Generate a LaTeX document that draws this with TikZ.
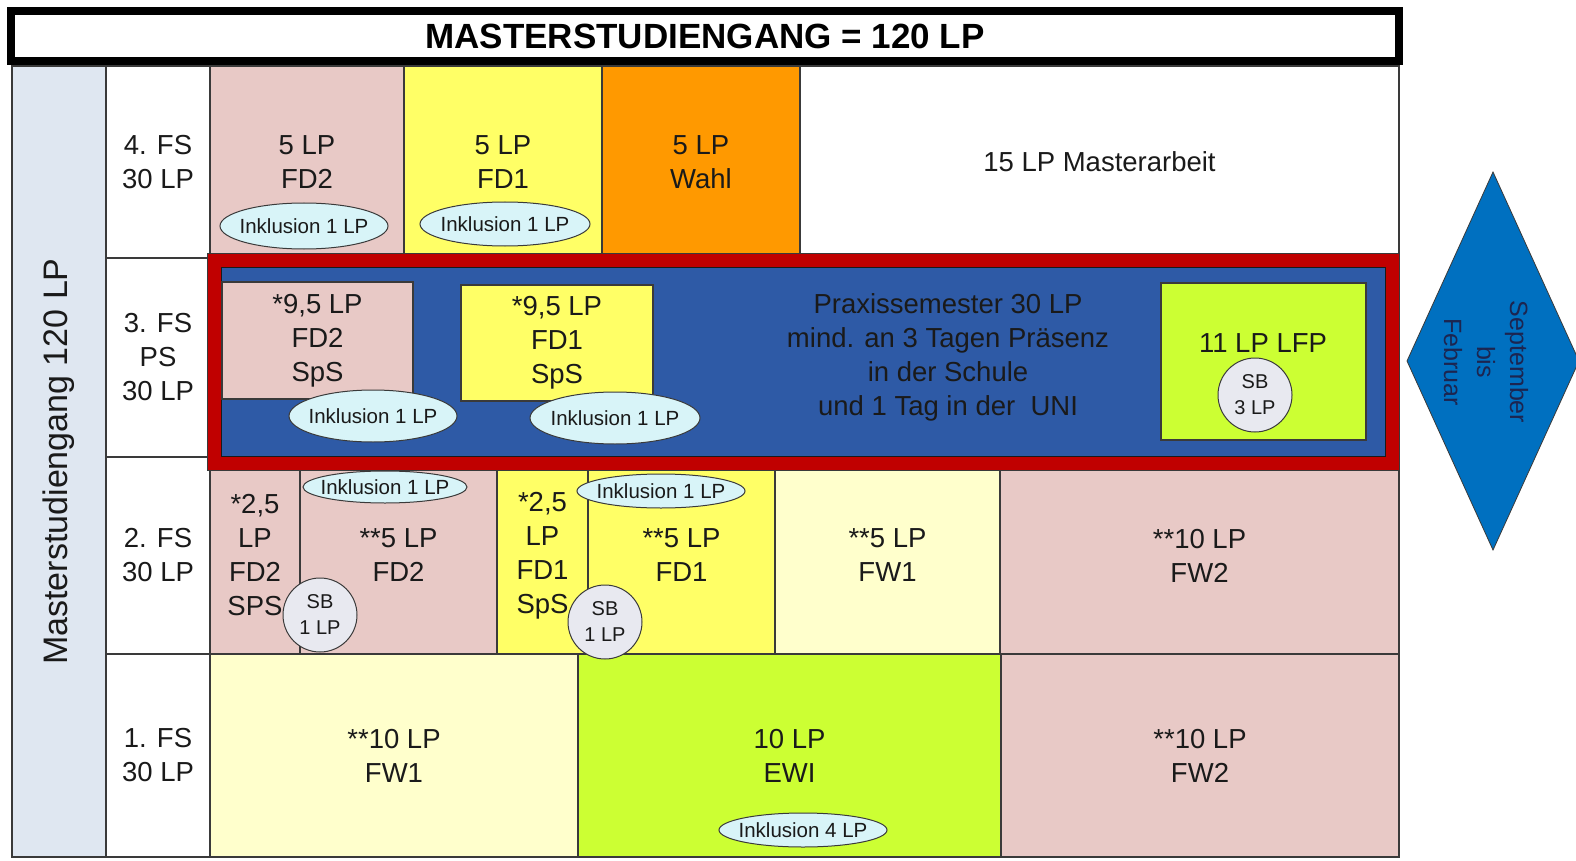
\documentclass[tikz,border=0pt]{standalone}
\usepackage{fontspec}
\setmainfont{Liberation Sans}
\usetikzlibrary{shapes.geometric}
\definecolor{pinkc}{HTML}{E8C9C6}
\definecolor{yellowc}{HTML}{FFFF66}
\definecolor{orangec}{HTML}{FF9900}
\definecolor{lyellow}{HTML}{FFFFCC}
\definecolor{greenc}{HTML}{CCFF33}
\definecolor{bluec}{HTML}{2E5AA6}
\definecolor{redc}{HTML}{C00000}
\definecolor{ellc}{HTML}{D8F4F8}
\definecolor{sbfill}{HTML}{E8E9F0}
\definecolor{labelc}{HTML}{DFE7F1}
\definecolor{diamc}{HTML}{0070C0}
\definecolor{gridc}{HTML}{3A3A3A}
\definecolor{txtc}{HTML}{1A1A1A}
\definecolor{diatext}{HTML}{1C2550}
\begin{document}
\begin{tikzpicture}[x=1pt,y=-1pt,
  every node/.style={text=txtc, align=center, inner sep=0pt, outer sep=0pt},
  cellbox/.style={draw=gridc, line width=1.2pt, anchor=north west, font=\fontsize{27.5}{34}\selectfont},
  inkl/.style={ellipse, draw=gridc, line width=1pt, fill=ellc, font=\fontsize{20.5}{24}\selectfont},
  sbc/.style={circle, draw=gridc, line width=1pt, fill=sbfill, minimum size=74, font=\fontsize{20}{26}\selectfont},
  big/.style={font=\fontsize{27.5}{34}\selectfont}]
\useasboundingbox (0,0) rectangle (1576,861);
\fill[white] (0,0) rectangle (1576,861);
% title
\node[draw=black, line width=8pt, minimum width=1388, minimum height=50, anchor=north west,
  font=\bfseries\fontsize{35}{40}\selectfont, text=black] (title) at (11,11) {MASTERSTUDIENGANG = 120 LP};
% left label
\node[rotate=90, fill=labelc, draw=gridc, line width=1.2pt, minimum width=791, minimum height=94,
  font=\fontsize{34}{40}\selectfont] (lbl) at (59,461.5) {Masterstudiengang 120 LP};
% semester labels
\node[cellbox, fill=white, minimum width=104, minimum height=192] (s4) at (106,66) {4. FS\\30 LP};
\node[cellbox, fill=white, minimum width=104, minimum height=199] (s3) at (106,258) {3. FS\\PS\\30 LP};
\node[cellbox, fill=white, minimum width=104, minimum height=197] (s2) at (106,457) {2. FS\\30 LP};
\node[cellbox, fill=white, minimum width=104, minimum height=203] (s1) at (106,654) {1. FS\\30 LP};
% row 4
\node[cellbox, fill=pinkc, minimum width=194, minimum height=192] (c4a) at (210,66) {5 LP\\FD2};
\node[cellbox, fill=yellowc, minimum width=198, minimum height=192] (c4b) at (404,66) {5 LP\\FD1};
\node[cellbox, fill=orangec, minimum width=198, minimum height=192] (c4c) at (602,66) {5 LP\\Wahl};
\node[cellbox, fill=white, minimum width=599, minimum height=192] (c4d) at (800,66) {15 LP Masterarbeit};
% row 2
\node[cellbox, fill=pinkc, minimum width=90, minimum height=197] (c2a) at (210,457) {*2,5\\LP\\FD2\\SPS};
\node[cellbox, fill=pinkc, minimum width=197, minimum height=197] (c2b) at (300,457) {**5 LP\\FD2};
\node[cellbox, fill=yellowc, minimum width=91, minimum height=197] (c2c) at (497,457) {*2,5\\LP\\FD1\\SpS};
\node[cellbox, fill=yellowc, minimum width=187, minimum height=197] (c2d) at (588,457) {**5 LP\\FD1};
\node[cellbox, fill=lyellow, minimum width=225, minimum height=197] (c2e) at (775,457) {**5 LP\\FW1};
\node[cellbox, fill=pinkc, minimum width=399, minimum height=197] (c2f) at (1000,457) {**10 LP\\FW2};
% row 1
\node[cellbox, fill=lyellow, minimum width=368, minimum height=203] (c1a) at (210,654) {**10 LP\\FW1};
\node[cellbox, fill=greenc, minimum width=423, minimum height=203] (c1b) at (578,654) {10 LP\\EWI};
\node[cellbox, fill=pinkc, minimum width=398, minimum height=203] (c1c) at (1001,654) {**10 LP\\FW2};
% row 3 : Praxissemester
\node[draw=gridc, fill=redc, line width=1pt, anchor=north west, minimum width=1192, minimum height=217] (frame) at (207,253) {};
\node[draw=txtc, fill=bluec, line width=1pt, anchor=north west, minimum width=1164, minimum height=189] (blue) at (221,267) {};
\node[cellbox, fill=pinkc, minimum width=191, minimum height=117] (p3a) at (222,282) {*9,5 LP\\FD2\\SpS};
\node[cellbox, fill=yellowc, minimum width=192, minimum height=116] (p3b) at (461,285) {*9,5 LP\\FD1\\SpS};
\node[big] (prax) at (948,357) {Praxissemester 30 LP\\mind. an 3 Tagen Präsenz\\in der Schule\\und 1 Tag in der\ \ UNI};
\node[cellbox, fill=greenc, minimum width=205, minimum height=157] (lfp) at (1161,283) {};
\node[big] (lfpt) at (1263,343) {11 LP LFP};
% Inklusion ellipses
\node[inkl, minimum width=168, minimum height=46] (i4a) at (304,226) {\makebox[0pt]{Inklusion 1 LP}};
\node[inkl, minimum width=170, minimum height=44] (i4b) at (505,224) {\makebox[0pt]{Inklusion 1 LP}};
\node[inkl, minimum width=168, minimum height=52] (i3a) at (373,416) {\makebox[0pt]{Inklusion 1 LP}};
\node[inkl, minimum width=170, minimum height=52] (i3b) at (615,418) {\makebox[0pt]{Inklusion 1 LP}};
\node[inkl, minimum width=164, minimum height=32] (i2a) at (385,487) {\makebox[0pt]{Inklusion 1 LP}};
\node[inkl, minimum width=168, minimum height=34] (i2b) at (661,491) {\makebox[0pt]{Inklusion 1 LP}};
\node[inkl, minimum width=168, minimum height=34] (i1) at (803,830) {\makebox[0pt]{Inklusion 4 LP}};
% SB circles
\node[sbc] (sb2a) at (320,615) {SB\\1 LP};
\node[sbc] (sb2b) at (605,622) {SB\\1 LP};
\node[sbc] (sb3) at (1255,395) {SB\\3 LP};
% diamond
\node[diamond, shape aspect=2.2, fill=diamc, draw=gridc, line width=0.8pt, minimum width=378,
  minimum height=172, rotate=-90] (dia) at (1493,361) {};
\node[rotate=-90, font=\fontsize{25}{33}\selectfont, text=diatext] (diat) at (1486,362) {September\\bis\\Februar};
\end{tikzpicture}
\end{document}
